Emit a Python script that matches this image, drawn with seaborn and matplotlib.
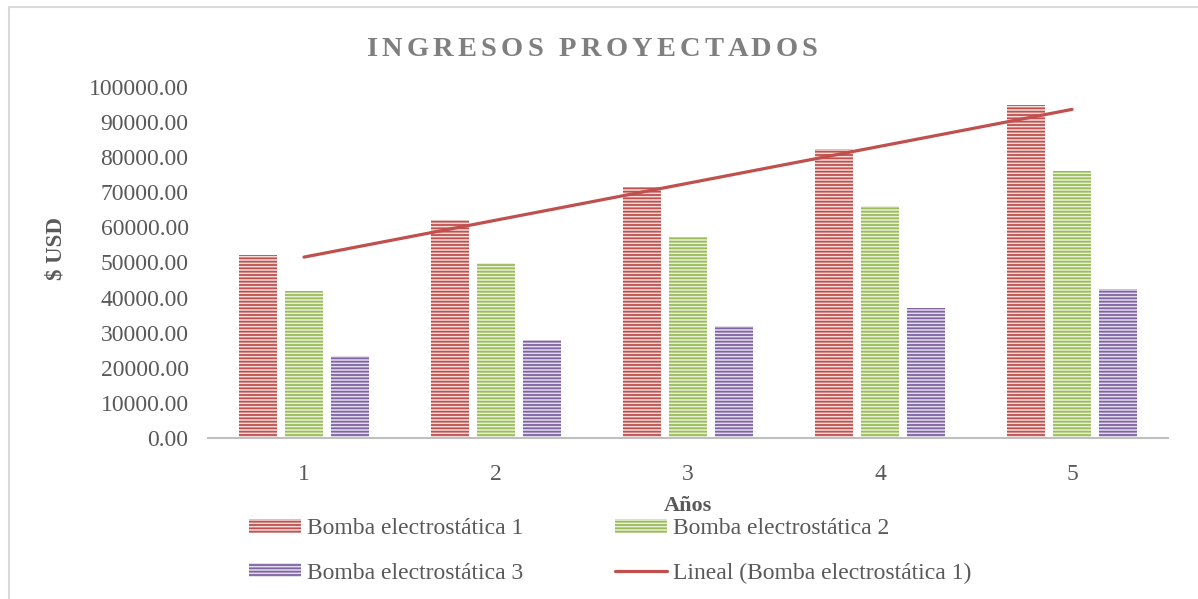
import numpy as np
import pandas as pd
import matplotlib
matplotlib.use("Agg")
import matplotlib.pyplot as plt
import seaborn as sns
from matplotlib.patches import Patch
from matplotlib.lines import Line2D
from matplotlib.font_manager import FontProperties

# Projected income per year (USD)
years = ["1", "2", "3", "4", "5"]
series_names = ["Bomba electrostática 1", "Bomba electrostática 2", "Bomba electrostática 3"]
bomba_1 = [52200, 62200, 71500, 82200, 94800]
bomba_2 = [42000, 50000, 57200, 66100, 76000]
bomba_3 = [23500, 27900, 32000, 37000, 42500]
y_ticks = list(range(0, 100001, 10000))
trend_label = "Lineal (Bomba electrostática 1)"
title_text = "INGRESOS PROYECTADOS"

colors = ["#c0504d", "#9bbb59", "#8064a2"]
tints = ["#f4dcdb", "#e9f0da", "#e3dcec"]
text_gray = "#595959"
serif = ["Liberation Serif", "DejaVu Serif"]

sns.set_theme(style="white")
plt.rcParams["font.family"] = serif
plt.rcParams["hatch.linewidth"] = 1.3

df = pd.DataFrame({
    "Año": years * 3,
    "Ingreso": bomba_1 + bomba_2 + bomba_3,
    "Serie": [n for n in series_names for _ in years],
})

W, H = 1198, 599
fig = plt.figure(figsize=(W / 100, H / 100), dpi=100)
ax = fig.add_axes([208 / W, 1 - 438 / H, 960 / W, 351 / H])

sns.barplot(data=df, x="Año", y="Ingreso", hue="Serie", hue_order=series_names,
            palette=colors, saturation=1, width=0.72, gap=0.175,
            legend=False, ax=ax)

# striped fill: light tint with horizontal lines in the series colour
for cont, col, tint in zip(ax.containers, colors, tints):
    for bar in cont:
        bar.set_facecolor(tint)
        bar.set_edgecolor(col)
        bar.set_linewidth(0)
        bar.set_hatch("-----")

# linear trend of the first series
xs = np.arange(1, len(years) + 1)
coef = np.polyfit(xs, bomba_1, 1)
ax.plot(xs - 1, np.polyval(coef, xs), color=colors[0], lw=2.3, zorder=5)

ax.set_xlim(-0.5, len(years) - 0.5)
ax.set_ylim(0, 100000)
ax.set_yticks(y_ticks)
ax.set_yticklabels([f"{v:.2f}" for v in y_ticks])
for side in ("left", "top", "right"):
    ax.spines[side].set_visible(False)
ax.spines["bottom"].set_color("#bfbfbf")
ax.spines["bottom"].set_linewidth(1.5)
ax.tick_params(axis="x", length=0, pad=19, labelsize=17, labelcolor=text_gray)
ax.tick_params(axis="y", length=0, pad=14, labelsize=17, labelcolor=text_gray)
ax.grid(False)

ax.set_xlabel("Años", fontsize=16, fontweight="bold", color=text_gray)
ax.xaxis.set_label_coords(0.5, -0.165)
ax.set_ylabel("$ USD", fontsize=16.5, fontweight="bold", color=text_gray)
ax.yaxis.set_label_coords(-0.147, 0.541)

# legend: two columns, filled column by column
handles = [
    Patch(facecolor=tints[0], edgecolor=colors[0], linewidth=0, hatch="-----"),
    Patch(facecolor=tints[2], edgecolor=colors[2], linewidth=0, hatch="-----"),
    Patch(facecolor=tints[1], edgecolor=colors[1], linewidth=0, hatch="-----"),
    Line2D([], [], color=colors[0], lw=2.3),
]
labels = [series_names[0], series_names[2], series_names[1], trend_label]
leg = fig.legend(handles, labels, ncol=2, loc="center",
                 bbox_to_anchor=(610 / W, 1 - 551 / H), frameon=False,
                 fontsize=17, handlelength=2.2, handleheight=0.55,
                 handletextpad=0.25, columnspacing=3.9, labelspacing=1.0)
for t in leg.get_texts():
    t.set_color(text_gray)

# letter-spaced title
def spaced_text(text, xc, yc, total_px, size, color):
    renderer = fig.canvas.get_renderer()
    fp = FontProperties(family=serif, weight="bold", size=size)
    pref = [0.0] + [renderer.get_text_width_height_descent(text[:i], fp, ismath=False)[0]
                    for i in range(1, len(text) + 1)]
    extra = (total_px - pref[-1]) / (len(text) - 1)
    x0 = xc - total_px / 2
    for i, ch in enumerate(text):
        fig.text((x0 + pref[i] + extra * i) / W, 1 - yc / H, ch,
                 fontproperties=fp, color=color, ha="left", va="center")

spaced_text(title_text, 592, 49, 451, 20.5, "#7f7f7f")

# chart area outline
border = dict(color="#d9d9d9", lw=1.5, transform=fig.transFigure)
fig.add_artist(Line2D([9 / W, 1], [1 - 7 / H, 1 - 7 / H], **border))
fig.add_artist(Line2D([9 / W, 9 / W], [0, 1 - 7 / H], **border))

fig.savefig("out.png", dpi=100, facecolor="white")
